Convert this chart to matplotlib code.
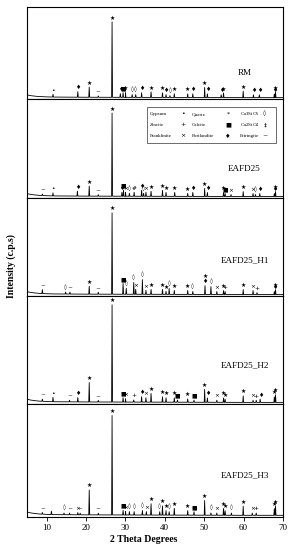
"""XRD patterns of RM and the EAFD25 mixes, stacked panels with phase markers."""

import numpy as np
import matplotlib.pyplot as plt
from matplotlib.patches import Rectangle

plt.rcParams["font.family"] = ["Liberation Serif", "DejaVu Serif"]

# ---------------------------------------------------------------------------
# Data (2-theta in degrees, relative intensity in % of panel height)
# ---------------------------------------------------------------------------

SAMPLES = ["RM", "EAFD25", "EAFD25_H1", "EAFD25_H2", "EAFD25_H3"]

# low-angle background shared by all patterns
BG_THETA = [5, 5.5, 6, 7, 8, 10, 12, 20, 30, 40, 50, 60, 70]
BG_LEVEL = [4.5, 4.0, 3.6, 3.1, 2.7, 2.3, 2.1, 1.9, 1.8, 1.7, 1.6, 1.5, 1.5]

RM_THETA = [11.6, 17.9, 20.8, 23.1, 26.6, 28.7, 29.4, 30.0, 31.7, 32.6, 34.1, 36.5,
            39.4, 40.3, 41.3, 42.4, 45.8, 47.1, 50.1, 50.8, 54.3, 54.9, 59.9, 62.5,
            64.0, 67.8, 68.1]
RM_INT = [3, 6, 11, 1.5, 82, 4, 5, 5, 3, 3, 5, 6, 5, 3, 2, 4, 4, 4, 11, 4, 3, 5, 7,
          3, 3, 4, 6]
RM_SYM = [(11.6, "•"), (17.9, "♦"), (20.8, "★"), (23.1, "~"), (26.6, "★"), (28.7, "♦"),
          (29.4, "■"), (30.0, "★"), (31.7, "◊"), (32.6, "◊"), (34.1, "♦"), (36.5, "★"),
          (39.4, "★"), (40.3, "♦"), (41.3, "◊"), (42.4, "★"), (45.8, "★"), (47.1, "♦"),
          (50.1, "★"), (50.8, "♦"), (54.3, "♦"), (54.9, "★"), (59.9, "★"), (62.5, "♦"),
          (64.0, "♦"), (67.8, "♦"), (68.1, "★")]

EAFD25_THETA = [8.9, 11.6, 17.8, 20.8, 23.1, 26.6, 29.1, 29.5, 30.0, 31.0, 32.2, 34.1,
                34.6, 35.2, 36.5, 39.4, 40.3, 42.5, 45.8, 47.1, 50.1, 50.8, 54.9, 55.3,
                56.8, 59.9, 62.4, 63.0, 64.1, 67.8, 68.1]
EAFD25_INT = [1.5, 3, 5, 10, 1.5, 84, 4, 6, 4, 3, 4, 6, 3, 4, 5, 6, 4, 4, 3, 4, 8, 4,
              4, 3, 2, 5, 3, 2, 3, 3, 5]
EAFD25_SYM = [(8.9, "~"), (11.6, "•"), (17.8, "♦"), (20.8, "★"), (23.1, "~"), (26.6, "★"),
              (29.1, "♦"), (29.5, "■"), (30.0, "×"), (31.0, "◊"), (32.2, "#"), (34.1, "♦"),
              (34.6, "◊"), (35.2, "×"), (36.5, "★"), (39.4, "★"), (40.3, "★"), (42.5, "★"),
              (45.8, "★"), (47.1, "♦"), (50.1, "★"), (50.8, "♦"), (54.9, "★"), (55.3, "■"),
              (56.8, "×"), (59.9, "★"), (62.4, "×"), (63.0, "◊"), (64.1, "♦"), (67.8, "♦"),
              (68.1, "★")]

H1_THETA = [8.9, 14.8, 15.9, 20.8, 23.1, 26.6, 29.4, 30.2, 32.1, 32.6, 34.3, 35.2,
            36.5, 39.4, 40.3, 41.1, 42.4, 45.8, 47.1, 50.2, 51.7, 53.2, 54.9, 55.3,
            59.9, 62.4, 63.4, 67.8, 68.1]
H1_INT = [4, 2, 2, 8, 2, 83, 11, 6, 12, 5, 15, 4, 5, 5, 3, 6, 4, 4, 3, 9, 8, 3, 4, 3,
          5, 4, 2, 3, 5]
H1_SYM = [(8.9, "~"), (14.8, "◊"), (15.9, "~"), (20.8, "★"), (23.1, "~"), (26.6, "★"),
          (29.4, "■"), (30.2, "◊"), (32.1, "◊"), (32.6, "×"), (34.3, "◊"), (35.2, "×"),
          (36.5, "★"), (39.4, "★"), (40.3, "★"), (41.1, "◊"), (42.4, "★"), (45.8, "★"),
          (47.1, "◊"), (50.2, "♦"), (50.2, "★"), (51.7, "◊"), (53.2, "×"), (54.9, "★"),
          (55.3, "+"), (59.9, "★"), (62.4, "×"), (63.4, "+"), (67.8, "♦"), (68.1, "★")]

H2_THETA = [8.9, 11.6, 15.8, 17.9, 20.8, 23.1, 26.6, 29.4, 30.0, 32.1, 34.1, 35.2,
            36.5, 39.4, 40.3, 42.4, 43.2, 45.8, 47.4, 50.1, 50.8, 53.2, 54.9, 55.3,
            59.9, 62.4, 63.2, 64.2, 67.8, 68.1]
H2_INT = [2, 4, 1.5, 4, 18, 1.5, 90, 4, 3, 2, 5, 4, 8, 5, 4, 4, 2, 3, 2, 12, 4, 2, 4,
          3, 6, 2, 2, 3, 5, 7]
H2_SYM = [(8.9, "~"), (11.6, "•"), (15.8, "~"), (17.9, "♦"), (20.8, "★"), (23.1, "~"),
          (26.6, "★"), (29.4, "■"), (30.0, "×"), (32.1, "+"), (34.1, "♦"), (35.2, "×"),
          (36.5, "★"), (39.4, "★"), (40.3, "★"), (42.4, "★"), (43.2, "■"), (45.8, "★"),
          (47.4, "■"), (50.1, "★"), (50.8, "♦"), (53.2, "×"), (54.9, "★"), (55.3, "★"),
          (59.9, "★"), (62.4, "×"), (63.2, "+"), (64.2, "♦"), (67.8, "★"), (68.1, "★")]

H3_THETA = [8.9, 11.2, 14.4, 15.8, 17.9, 18.5, 20.8, 23.1, 26.6, 29.4, 30.0, 31.0,
            32.2, 34.3, 35.3, 36.5, 38.7, 39.4, 40.3, 41.1, 42.4, 45.8, 47.4, 50.1,
            51.7, 53.2, 54.9, 55.3, 56.9, 59.9, 62.2, 63.2, 67.8, 68.1]
H3_INT = [1.5, 3, 1.5, 1.5, 2, 1.5, 22, 1.5, 88, 4, 3, 3, 3, 4, 3, 10, 3, 8, 4, 3, 6,
          4, 3, 13, 2, 2, 6, 4, 2, 8, 2, 2, 6, 8]
H3_SYM = [(8.9, "~"), (14.4, "◊"), (15.8, "~"), (17.9, "×"), (18.5, "~"), (20.8, "★"),
          (23.1, "~"), (26.6, "★"), (29.4, "■"), (30.0, "×"), (31.0, "◊"), (32.2, "◊"),
          (34.3, "◊"), (35.3, "×"), (36.5, "★"), (38.7, "◊"), (39.4, "★"), (40.3, "★"),
          (41.1, "◊"), (42.4, "★"), (45.8, "★"), (47.4, "■"), (50.1, "★"), (51.7, "◊"),
          (53.2, "×"), (54.9, "★"), (55.3, "★"), (56.9, "◊"), (59.9, "★"), (62.2, "×"),
          (63.2, "+"), (67.8, "★"), (68.1, "★")]

THETAS = [RM_THETA, EAFD25_THETA, H1_THETA, H2_THETA, H3_THETA]
INTENSITIES = [RM_INT, EAFD25_INT, H1_INT, H2_INT, H3_INT]
SYMBOLS = [RM_SYM, EAFD25_SYM, H1_SYM, H2_SYM, H3_SYM]

LEGEND_NAMES = [["Gypsum", "Quartz", "Ca$_3$SiO$_5$"],
                ["Zincite", "Calcite", "Ca$_2$SiO$_4$"],
                ["Franklinite", "Portlandite", "Ettringite"]]
LEGEND_SYMS = [["•", "*", "◊"],
               ["+", "■", "‡"],
               ["×", "♦", "~"]]

XTICKS = [10, 20, 30, 40, 50, 60, 70]

# ---------------------------------------------------------------------------
# Layout
# ---------------------------------------------------------------------------

fig = plt.figure(figsize=(2.91, 5.5), dpi=100)
gs = fig.add_gridspec(5, 1, left=27 / 291, right=283 / 291, top=1 - 7 / 550,
                      bottom=1 - 517 / 550, hspace=0,
                      height_ratios=[92, 99, 98, 108, 113])
LABEL_Y = [0.24, 0.25, 0.32, 0.32, 0.33]
SYM_FONT = ["DejaVu Sans"]


def trace(theta, inten):
    """Polyline: background with each reflection drawn as a sharp spike."""
    base = np.interp(theta, BG_THETA, BG_LEVEL)
    xs = list(BG_THETA)
    ys = list(BG_LEVEL)
    for t, b, h in zip(theta, base, inten):
        xs += [t - 0.12, t, t + 0.12]
        ys += [b, b + h, b]
    order = np.argsort(xs, kind="stable")
    return np.asarray(xs)[order], np.asarray(ys)[order]


axes = []
for i, name in enumerate(SAMPLES):
    ax = fig.add_subplot(gs[i])
    axes.append(ax)
    x, y = trace(THETAS[i], INTENSITIES[i])
    ax.plot(x, y, color="black", lw=0.6)

    # phase markers above each reflection, stacked where they share a peak
    base = np.interp(THETAS[i], BG_THETA, BG_LEVEL)
    tips = dict(zip(THETAS[i], base + np.asarray(INTENSITIES[i])))
    used = {}
    for t, s in SYMBOLS[i]:
        level = used.get(t, 0)
        used[t] = level + 1
        yy = tips.get(t, 3) + 1.5 + level * 5.0
        ax.text(t, yy, s, ha="center", va="bottom", fontsize=4.2,
                family=SYM_FONT, color="black")

    ax.text(0.85, LABEL_Y[i], name, transform=ax.transAxes, ha="center",
            va="bottom", fontsize=6.6)
    ax.set_xlim(5, 70)
    ax.set_ylim(0, 100)
    ax.set_yticks([])
    for sp in ax.spines.values():
        sp.set_linewidth(0.8)
    if i < len(SAMPLES) - 1:
        ax.set_xticks([])
    else:
        ax.set_xticks(XTICKS)
        ax.tick_params(axis="x", direction="out", length=3, width=0.6,
                       labelsize=6.5, pad=2)

fig.text(144 / 291, 1 - 540 / 550, "2 Theta Degrees", ha="center", va="center",
         fontsize=7, fontweight="bold")
fig.text(11 / 291, 1 - 266 / 550, "Intensity (c.p.s)", ha="center", va="center",
         rotation=90, fontsize=7, fontweight="bold")

# phase legend box inside the EAFD25 panel
fig.patches.append(Rectangle((147 / 291, 1 - 143 / 550), 129 / 291, 36 / 550,
                             transform=fig.transFigure, fill=False, lw=0.6,
                             edgecolor="#555555"))
ROW_Y = [114, 125, 136]
NAME_X = [150, 192, 240]
SYM_X = [183, 228, 265]
for r in range(3):
    for c in range(3):
        fig.text(NAME_X[c] / 291, 1 - ROW_Y[r] / 550, LEGEND_NAMES[r][c],
                 ha="left", va="center", fontsize=3.6)
        fig.text(SYM_X[c] / 291, 1 - ROW_Y[r] / 550, LEGEND_SYMS[r][c],
                 ha="center", va="center", fontsize=4.5, family=SYM_FONT)

fig.savefig("out.png", dpi=100)
